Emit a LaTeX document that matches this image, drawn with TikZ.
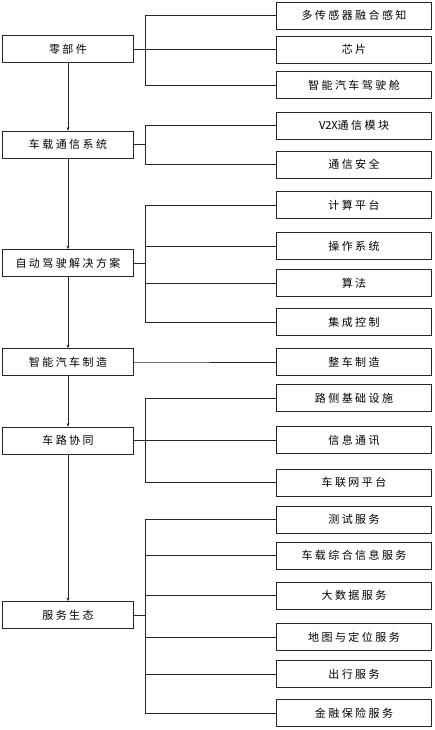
\documentclass[tikz,border=0pt]{standalone}
\usepackage{fontspec}
\newfontfamily\cjk[LetterSpace=22]{Noto Sans CJK SC}
\newfontfamily\cjktight{Noto Sans CJK SC}
\usetikzlibrary{arrows.meta}
\begin{document}
\begin{tikzpicture}[x=1pt,y=-1pt,
  mainbox/.style={draw=black!85, line width=0.8pt, minimum width=131pt, minimum height=27pt, inner sep=0pt, font=\cjk\fontsize{11}{13}\selectfont},
  subbox/.style={draw=black!85, line width=0.8pt, minimum width=155pt, minimum height=27pt, inner sep=0pt, font=\cjk\fontsize{11}{13}\selectfont},
  link/.style={draw=black!85, line width=0.8pt},
  flow/.style={link, -{Stealth[length=3.5pt,width=3pt]}}]
\useasboundingbox (0,0) rectangle (435,730);

% main chain
\node[mainbox] (parts) at (68,49) {零部件};
\node[mainbox] (comm) at (68,144.5) {车载通信系统};
\node[mainbox] (auto) at (68,263) {自动驾驶解决方案};
\node[mainbox] (manu) at (68,362) {智能汽车制造};
\node[mainbox] (road) at (68,440.5) {车路协同};
\node[mainbox] (serv) at (68,615) {服务生态};

\draw[flow] (parts) -- (comm);
\draw[flow] (comm) -- (auto);
\draw[flow] (auto) -- (manu);
\draw[flow] (manu) -- (road);
\draw[flow] (road) -- (serv);

% sub items
\node[subbox] (sensor) at (354,15.5) {多传感器融合感知};
\node[subbox] (chip) at (354,49.5) {芯片};
\node[subbox] (cabin) at (354,85) {智能汽车驾驶舱};
\node[subbox] (vtx) at (354,125.5) {{\cjktight V2X}通信模块};
\node[subbox] (secu) at (354,164.5) {通信安全};
\node[subbox] (comp) at (354,205) {计算平台};
\node[subbox] (os) at (354,246) {操作系统};
\node[subbox] (algo) at (354,283) {算法};
\node[subbox] (ctrl) at (354,322) {集成控制};
\node[subbox] (car) at (354,362) {整车制造};
\node[subbox] (infra) at (354,398) {路侧基础设施};
\node[subbox] (info) at (354,440) {信息通讯};
\node[subbox] (iov) at (354,482.5) {车联网平台};
\node[subbox] (test) at (354,519.5) {测试服务};
\node[subbox] (invi) at (354,555.5) {车载综合信息服务};
\node[subbox] (data) at (354,595.5) {大数据服务};
\node[subbox] (map) at (354,637) {地图与定位服务};
\node[subbox] (trip) at (354,674) {出行服务};
\node[subbox] (fin) at (354,713) {金融保险服务};

% brackets
\foreach \m/\s in {parts/sensor,parts/chip,parts/cabin,comm/vtx,comm/secu,
    auto/comp,auto/os,auto/algo,auto/ctrl,manu/car,road/infra,road/info,road/iov,
    serv/test,serv/invi,serv/data,serv/map,serv/trip,serv/fin}
  \draw[link] (\m.east) -- ++(11,0) |- (\s.west);
\end{tikzpicture}
\end{document}
